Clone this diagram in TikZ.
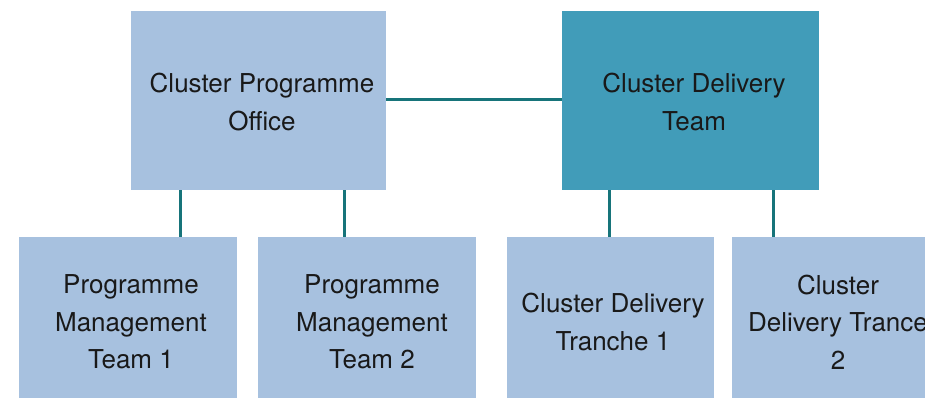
\documentclass[tikz,border=0pt]{standalone}
\usepackage{fontspec}
\setmainfont{TeX Gyre Heros}
\definecolor{boxlight}{HTML}{A7C1DF}
\definecolor{boxteal}{HTML}{419CB9}
\definecolor{linkteal}{HTML}{17747A}
\begin{document}
\begin{tikzpicture}[x=1pt,y=-1pt,
  unit/.style={fill=boxlight,draw=none,inner sep=0pt},
  lead/.style={fill=boxteal,draw=none,inner sep=0pt},
  label/.style={align=center,font=\fontsize{26}{37.5}\selectfont,text=black!90},
  link/.style={draw=linkteal,line width=3pt}]
\useasboundingbox (0,0) rectangle (925,398);
\clip (0,0) rectangle (925,398);
% top level boxes
\path[unit] (131,11) rectangle (386,190);
\coordinate (cpo-w) at (131,100); \coordinate (cpo-e) at (386,100);
\path[lead] (562,11) rectangle (819,190);
\coordinate (cdt-w) at (562,100);
\node[label] (cpo) at (262,102) {Cluster Programme\\Office};
\node[label] (cdt) at (694,102) {Cluster Delivery\\Team};
% bottom level boxes
\path[unit] (19,237) rectangle (237,410);
\path[unit] (258,237) rectangle (476,410);
\path[unit] (507,237) rectangle (714,410);
\path[unit] (732,237) rectangle (944,410);
\node[label] (pm1) at (131,322) {Programme\\Management\\Team 1};
\node[label] (pm2) at (372,322) {Programme\\Management\\Team 2};
\node[label] (ct1) at (613,322) {Cluster Delivery\\Tranche 1};
\node[label] (ct2) at (838,322) {Cluster\\Delivery Trance\\2};
% connectors
\coordinate (a1) at (180,190); \coordinate (a2) at (180,237);
\coordinate (b1) at (344,190); \coordinate (b2) at (344,237);
\coordinate (c1) at (609,190); \coordinate (c2) at (609,237);
\coordinate (d1) at (773,190); \coordinate (d2) at (773,237);
\draw[link] (cpo-e) -- (cdt-w);
\draw[link] (a1) -- (a2);
\draw[link] (b1) -- (b2);
\draw[link] (c1) -- (c2);
\draw[link] (d1) -- (d2);
\end{tikzpicture}
\end{document}
